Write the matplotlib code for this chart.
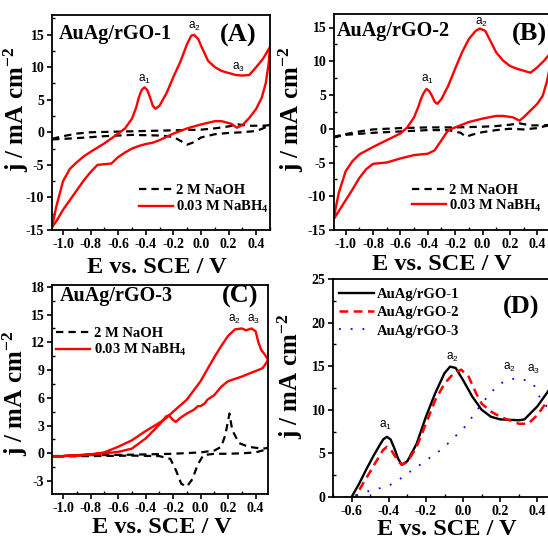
import matplotlib
matplotlib.use("Agg")
import matplotlib.pyplot as plt
from matplotlib.ticker import FixedLocator, AutoMinorLocator

plt.rcParams['font.family'] = ['Liberation Serif', 'DejaVu Serif']
plt.rcParams['font.weight'] = 'bold'
plt.rcParams['mathtext.default'] = 'regular'
plt.rcParams['axes.linewidth'] = 1.3

# ---------------- Panel A data ----------------
a_red_fwd_x = [-1.08, -1.05, -1.0, -0.95, -0.9, -0.85, -0.8, -0.7, -0.6, -0.55, -0.5, -0.47, -0.45, -0.43, -0.41,
               -0.39, -0.37, -0.35, -0.33, -0.3, -0.25, -0.2, -0.15, -0.1, -0.07, -0.05, -0.02, 0.0, 0.05, 0.1,
               0.15, 0.2, 0.25, 0.3, 0.35, 0.4, 0.45, 0.5]
a_red_fwd_y = [-14.6, -11.5, -7.5, -5.6, -4.6, -3.7, -3.0, -1.7, -0.2, 0.6, 2.1, 3.8, 5.4, 6.5, 6.9,
               6.5, 5.4, 4.1, 3.6, 4.1, 6.0, 8.5, 10.8, 13.6, 14.85, 14.95, 14.3, 13.3, 11.0, 10.0,
               9.4, 9.1, 8.8, 8.7, 8.8, 10.0, 11.3, 13.1]
a_red_rev_x = [0.5, 0.49, 0.47, 0.44, 0.4, 0.35, 0.3, 0.26, 0.22, 0.15, 0.1, 0.0, -0.1, -0.2, -0.3, -0.35,
               -0.4, -0.45, -0.5, -0.55, -0.6, -0.65, -0.7, -0.75, -0.8, -0.85, -0.9, -0.95, -1.0, -1.05, -1.08]
a_red_rev_y = [13.1, 10.5, 7.6, 5.3, 3.6, 2.2, 1.1, 0.7, 1.3, 1.7, 1.7, 1.2, 0.6, -0.2, -1.2, -1.6,
               -1.8, -2.1, -2.5, -3.1, -3.8, -4.8, -4.9, -5.0, -6.1, -7.4, -8.9, -10.4, -11.9, -13.7, -14.6]
a_blk_x = [-1.08, -1.0, -0.9, -0.8, -0.6, -0.4, -0.2, 0.0, 0.1, 0.2, 0.27, 0.35, 0.45, 0.5,
           0.45, 0.4, 0.3, 0.2, 0.1, 0.0, -0.05, -0.1, -0.15, -0.2, -0.3, -0.5, -0.7, -0.9, -1.08]
a_blk_y = [-1.0, -0.6, -0.2, 0.0, 0.1, 0.2, 0.3, 0.4, 0.6, 0.9, 1.2, 1.0, 1.0, 1.1,
           0.6, 0.2, 0.0, -0.1, -0.3, -0.8, -1.5, -1.9, -1.3, -0.7, -0.5, -0.4, -0.6, -0.9, -1.1]

# ---------------- Panel B data ----------------
b_red_fwd_x = [-1.09, -1.05, -1.0, -0.95, -0.9, -0.8, -0.7, -0.6, -0.55, -0.5, -0.47, -0.45, -0.43, -0.41,
               -0.39, -0.37, -0.35, -0.33, -0.3, -0.25, -0.2, -0.15, -0.1, -0.05, -0.02, 0.02, 0.05, 0.1,
               0.15, 0.2, 0.25, 0.3, 0.35, 0.4, 0.45, 0.5]
b_red_fwd_y = [-13.5, -9.5, -6.3, -4.8, -3.8, -2.7, -1.7, -0.7, 0.2, 1.7, 3.2, 4.4, 5.3, 5.9,
               5.6, 4.9, 4.0, 3.7, 4.4, 6.4, 8.9, 11.3, 13.3, 14.5, 14.85, 14.5, 13.3, 11.3,
               10.1, 9.3, 8.9, 8.6, 8.3, 9.1, 10.1, 11.3]
b_red_rev_x = [0.5, 0.49, 0.47, 0.44, 0.4, 0.35, 0.3, 0.27, 0.22, 0.15, 0.1, 0.0, -0.1, -0.2, -0.25, -0.3,
               -0.35, -0.4, -0.45, -0.5, -0.6, -0.7, -0.75, -0.8, -0.85, -0.9, -0.95, -1.0, -1.05, -1.09]
b_red_rev_y = [11.3, 9.0, 7.0, 4.9, 3.7, 2.7, 1.7, 1.2, 1.7, 1.9, 1.9, 1.5, 1.0, 0.2, -0.2, -1.7,
               -3.2, -3.7, -3.8, -3.9, -4.4, -5.0, -5.1, -5.2, -6.0, -7.3, -9.0, -10.6, -12.2, -13.5]
b_blk_x = [-1.09, -1.0, -0.9, -0.8, -0.6, -0.4, -0.2, 0.0, 0.1, 0.2, 0.27, 0.35, 0.45, 0.5,
           0.4, 0.3, 0.2, 0.1, 0.0, -0.08, -0.12, -0.16, -0.25, -0.4, -0.6, -0.8, -1.0, -1.09]
b_blk_y = [-1.2, -0.8, -0.4, -0.1, 0.1, 0.2, 0.2, 0.3, 0.4, 0.6, 0.8, 0.5, 0.5, 0.6,
           0.1, -0.1, 0.0, -0.2, -0.5, -0.9, -1.2, -0.6, -0.2, -0.2, -0.4, -0.6, -0.9, -1.3]

# ---------------- Panel C data ----------------
c_red_fwd_x = [-1.08, -1.0, -0.9, -0.8, -0.7, -0.6, -0.5, -0.4, -0.3, -0.25, -0.2, -0.1, 0.0, 0.05, 0.1,
               0.15, 0.2, 0.25, 0.3, 0.33, 0.37, 0.4, 0.42, 0.44, 0.47, 0.49]
c_red_fwd_y = [-0.35, -0.3, -0.25, -0.15, 0.1, 0.7, 1.4, 2.4, 3.3, 3.8, 4.5, 5.8, 7.8, 9.1, 10.4,
               11.6, 12.7, 13.4, 13.5, 13.3, 13.5, 13.2, 12.0, 11.2, 10.6, 10.1]
c_red_rev_x = [0.49, 0.47, 0.45, 0.4, 0.3, 0.2, 0.15, 0.1, 0.05, 0.03, 0.0, -0.02, -0.05, -0.1, -0.15,
               -0.18, -0.2, -0.23, -0.25, -0.3, -0.4, -0.5, -0.6, -0.7, -0.8, -0.9, -1.0, -1.08]
c_red_rev_y = [10.1, 9.6, 9.2, 8.9, 8.3, 7.8, 7.2, 6.3, 5.8, 5.4, 5.1, 5.1, 4.7, 4.3, 3.8,
               3.4, 3.6, 4.1, 4.0, 3.1, 1.6, 0.5, 0.15, 0.0, -0.1, -0.2, -0.3, -0.35]
c_blk_x = [-1.08, -0.8, -0.5, -0.2, 0.0, 0.1, 0.15, 0.18, 0.21, 0.23, 0.28, 0.35, 0.45, 0.5,
           0.45, 0.4, 0.3, 0.2, 0.1, 0.02, -0.02, -0.06, -0.1, -0.14, -0.18, -0.22, -0.3, -0.5, -0.8, -1.08]
c_blk_y = [-0.3, -0.2, -0.15, -0.05, 0.1, 0.3, 0.7, 2.0, 4.3, 2.5, 1.1, 0.7, 0.5, 0.6,
           0.3, 0.1, 0.0, -0.05, -0.05, -0.2, -1.2, -2.8, -3.6, -3.3, -1.8, -0.6, -0.3, -0.25, -0.3, -0.35]

# ---------------- Panel D data ----------------
d1_x = [-0.7, -0.6, -0.56, -0.52, -0.48, -0.45, -0.43, -0.41, -0.39, -0.37, -0.35, -0.33, -0.3, -0.25,
        -0.2, -0.15, -0.1, -0.07, -0.04, 0.0, 0.05, 0.1, 0.15, 0.2, 0.3, 0.33, 0.4, 0.45, 0.5]
d1_y = [-3.0, 0.0, 1.5, 3.2, 4.8, 5.9, 6.6, 6.9, 6.6, 5.6, 4.4, 3.7, 4.1, 6.1,
        9.2, 11.9, 14.2, 14.95, 14.8, 13.4, 11.5, 10.0, 9.2, 8.9, 8.8, 8.9, 10.4, 11.9, 13.4]
d2_x = [-0.7, -0.58, -0.54, -0.5, -0.47, -0.45, -0.43, -0.41, -0.39, -0.37, -0.35, -0.33, -0.3, -0.25,
        -0.2, -0.15, -0.1, -0.05, -0.01, 0.03, 0.07, 0.1, 0.15, 0.2, 0.3, 0.35, 0.4, 0.45, 0.5]
d2_y = [-3.0, 0.0, 1.5, 2.9, 4.0, 4.7, 5.4, 5.75, 5.5, 4.8, 4.1, 3.7, 4.0, 5.75,
        8.4, 11.1, 13.0, 14.2, 14.6, 13.8, 11.9, 10.7, 9.8, 9.2, 8.4, 8.4, 9.4, 10.9, 11.3]
d3_x = [-0.7, -0.65, -0.6, -0.55, -0.5, -0.45, -0.4, -0.35, -0.3, -0.25, -0.2, -0.15, -0.1, -0.05, 0.0,
        0.05, 0.1, 0.15, 0.2, 0.25, 0.3, 0.35, 0.38, 0.4, 0.42, 0.45, 0.5]
d3_y = [0.0, 0.0, 0.05, 0.35, 0.75, 1.0, 1.3, 1.9, 2.7, 3.4, 4.2, 4.9, 5.75, 6.8, 7.8,
        9.2, 10.7, 12.0, 13.0, 13.5, 13.6, 13.3, 12.9, 12.0, 11.1, 10.4, 10.1]

xticks_abc = [-1.0, -0.8, -0.6, -0.4, -0.2, 0.0, 0.2, 0.4]
xticks_d = [-0.6, -0.4, -0.2, 0.0, 0.2, 0.4]

W, H = 548, 539
fig = plt.figure(figsize=(W / 100, H / 100), dpi=100)


def px_axes(l, t, r, b):
    return fig.add_axes([l / W, (H - b) / H, (r - l) / W, (b - t) / H])


RED = '#ff0000'
ann_kw = dict(family=['Liberation Sans', 'DejaVu Sans'], fontweight='normal', fontsize=8.5, ha='center', va='center')


def style(ax, xticks, yticks, ylab_xy, xlab_xy):
    ax.xaxis.set_major_locator(FixedLocator(xticks))
    ax.yaxis.set_major_locator(FixedLocator(yticks))
    ax.xaxis.set_minor_locator(AutoMinorLocator(2))
    ax.yaxis.set_minor_locator(AutoMinorLocator(2))
    ax.set_xticklabels([f'{v:.1f}' for v in xticks])
    ax.set_yticklabels([f'{v:g}' for v in yticks])
    ax.tick_params(which='major', direction='out', length=3.5, width=1.2, labelsize=10, pad=2)
    ax.tick_params(which='minor', direction='in', length=2.5, width=1.0)
    for lab in ax.get_xticklabels() + ax.get_yticklabels():
        lab.set_fontweight('bold')
    ax.set_xlabel('E vs. SCE / V', fontsize=17.5, fontweight='bold')
    ax.set_ylabel('j / mA cm$^{-2}$', fontsize=18, fontweight='bold')
    ax.yaxis.set_label_coords(*ylab_xy)
    ax.xaxis.set_label_coords(*xlab_xy)


def cv_panel(ax, fx, fy, rx, ry, bx, by, leg_anchor, spacing):
    ax.plot(bx, by, color='black', lw=1.6, dashes=(3.3, 2.3), label='2 M NaOH')
    ax.plot(fx + rx, fy + ry, color=RED, lw=1.7, label='0.03 M NaBH$_4$')
    ax.legend(loc='upper left', bbox_to_anchor=leg_anchor, frameon=False, fontsize=10.5,
              handlelength=2.3, handletextpad=0.25, labelspacing=spacing, borderaxespad=0, borderpad=0)


# Panel A
axA = px_axes(52, 15, 270, 230)
cv_panel(axA, a_red_fwd_x, a_red_fwd_y, a_red_rev_x, a_red_rev_y, a_blk_x, a_blk_y, (0.4, 0.215), 0.12)
axA.set_xlim(-1.08, 0.5)
axA.set_ylim(-15, 18)
style(axA, xticks_abc, [-15, -10, -5, 0, 5, 10, 15], (-0.097, 0.56), (0.48, -0.125))
axA.text(0.03, 0.91, 'AuAg/rGO-1', transform=axA.transAxes, fontsize=14.5, fontweight='bold', ha='left', va='center')
axA.text(0.855, 0.905, '(A)', transform=axA.transAxes, fontsize=19, fontweight='bold', ha='center', va='center')
axA.text(-0.41, 8.1, 'a$_1$', **ann_kw)
axA.text(-0.045, 16.2, 'a$_2$', **ann_kw)
axA.text(0.275, 10.0, 'a$_3$', **ann_kw)

# Panel B
axB = px_axes(334, 14, 551, 230)
cv_panel(axB, b_red_fwd_x, b_red_fwd_y, b_red_rev_x, b_red_rev_y, b_blk_x, b_blk_y, (0.36, 0.215), 0.05)
axB.set_xlim(-1.085, 0.5)
axB.set_ylim(-15, 17)
style(axB, xticks_abc, [-15, -10, -5, 0, 5, 10, 15], (-0.131, 0.56), (0.495, -0.11))
axB.text(0.015, 0.92, 'AuAg/rGO-2', transform=axB.transAxes, fontsize=14.5, fontweight='bold', ha='left', va='center')
axB.text(0.9, 0.905, '(B)', transform=axB.transAxes, fontsize=19, fontweight='bold', ha='center', va='center')
axB.text(-0.405, 7.35, 'a$_1$', **ann_kw)
axB.text(-0.005, 15.7, 'a$_2$', **ann_kw)

# Panel C
axC = px_axes(52, 285, 268, 494)
cv_panel(axC, c_red_fwd_x, c_red_fwd_y, c_red_rev_x, c_red_rev_y, c_blk_x, c_blk_y, (0.02, 0.8), 0.12)
axC.set_xlim(-1.08, 0.49)
axC.set_ylim(-4.4, 18.2)
style(axC, xticks_abc, [-3, 0, 3, 6, 9, 12, 15, 18], (-0.102, 0.48), (0.51, -0.11))
axC.text(0.035, 0.945, 'AuAg/rGO-3', transform=axC.transAxes, fontsize=14.5, fontweight='bold', ha='left', va='center')
axC.text(0.87, 0.945, '(C)', transform=axC.transAxes, fontsize=19, fontweight='bold', ha='center', va='center')
axC.text(0.245, 14.5, 'a$_2$', **ann_kw)
axC.text(0.383, 14.5, 'a$_3$', **ann_kw)

# Panel D
axD = px_axes(333, 279, 556, 497)
axD.plot(d1_x, d1_y, color='black', lw=1.7, label='AuAg/rGO-1')
axD.plot(d2_x, d2_y, color=RED, lw=1.8, dashes=(3.5, 2.2), label='AuAg/rGO-2')
axD.plot(d3_x, d3_y, color='#0000ff', lw=1.3, dashes=(1, 5.5), label='AuAg/rGO-3')
axD.legend(loc='upper left', bbox_to_anchor=(0.027, 0.96), frameon=False, fontsize=10.5,
           handlelength=2.4, handletextpad=0.2, labelspacing=0.35, borderaxespad=0, borderpad=0)
axD.set_xlim(-0.7, 0.5)
axD.set_ylim(0, 25)
style(axD, xticks_d, [0, 5, 10, 15, 20, 25], (-0.127, 0.555), (0.51, -0.1))
axD.text(0.845, 0.87, '(D)', transform=axD.transAxes, fontsize=19, fontweight='bold', ha='center', va='center')
axD.text(-0.42, 8.2, 'a$_1$', **ann_kw)
axD.text(-0.055, 16.0, 'a$_2$', **ann_kw)
axD.text(0.25, 14.8, 'a$_2$', **ann_kw)
axD.text(0.38, 14.6, 'a$_3$', **ann_kw)

fig.savefig('out.png', dpi=100)
